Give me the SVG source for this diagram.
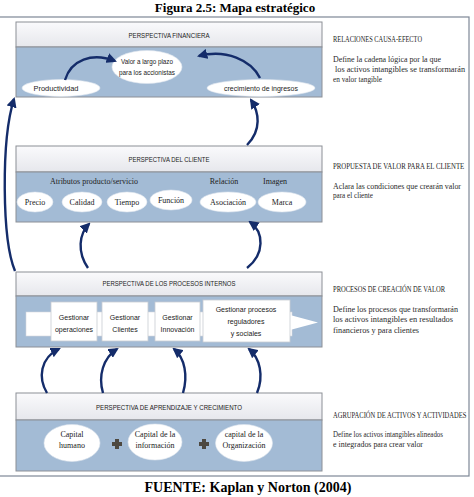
<svg xmlns="http://www.w3.org/2000/svg" width="474" height="497" viewBox="0 0 474 497">
<defs>
<linearGradient id="hdr" x1="0" y1="0" x2="0" y2="1">
<stop offset="0" stop-color="#fafafc"/>
<stop offset="1" stop-color="#e6e7ec"/>
</linearGradient>
<marker id="ah" viewBox="0 0 10 10" refX="8" refY="5" markerWidth="4.3" markerHeight="4.3" orient="auto" markerUnits="strokeWidth">
<path d="M0,0 L10,5 L0,10 z" fill="#142c6a"/>
</marker>
<style>
.hdr{fill:url(#hdr);stroke:#8c8f96;stroke-width:1}
.body{fill:#a3bbd5;stroke:#8c8f96;stroke-width:1}
.el{fill:#ffffff;stroke:#dfe5ee;stroke-width:0.6}
.box{fill:#ffffff;stroke:#c9ccd2;stroke-width:0.8}
.ht{font-family:"Liberation Sans",Arial,sans-serif;font-size:6.6px;fill:#1a1a1a;text-anchor:middle}
.st{font-family:"Liberation Sans",Arial,sans-serif;font-size:7px;fill:#222;text-anchor:middle}
.sf{font-family:"Liberation Serif","Times New Roman",serif;font-size:8px;fill:#222;text-anchor:middle}
.rh{font-family:"Liberation Serif","Times New Roman",serif;font-size:8px;fill:#222}
.rt{font-family:"Liberation Serif","Times New Roman",serif;font-size:8px;fill:#2a2a2a}
.cap{font-family:"Liberation Serif","Times New Roman",serif;font-size:13px;font-weight:bold;fill:#000;text-anchor:middle}
.cap2{font-family:"Liberation Serif","Times New Roman",serif;font-size:14px;font-weight:bold;fill:#000;text-anchor:middle}
.con{fill:none;stroke:#142c6a;stroke-width:2.4;marker-end:url(#ah)}
.plus{fill:#4d4840}
</style>
</defs>
<rect x="0" y="0" width="474" height="497" fill="#ffffff"/>
<text class="cap" x="235" y="12">Figura 2.5: Mapa estratégico</text>
<rect x="-2" y="17" width="471" height="459" fill="none" stroke="#7d8796" stroke-width="1.2"/>

<g id="financiera">
<rect class="hdr" x="16" y="22" width="306" height="25"/>
<rect class="body" x="16" y="47" width="306" height="50"/>
<text class="ht" x="169" y="38" textLength="81" lengthAdjust="spacingAndGlyphs">PERSPECTIVA FINANCIERA</text>
</g>
<g id="valor">
<ellipse class="el" cx="147" cy="67" rx="35" ry="16.5"/>
<text class="st" x="147" y="64" textLength="52" lengthAdjust="spacingAndGlyphs">Valor a largo plazo</text>
<text class="st" x="147" y="75" textLength="56" lengthAdjust="spacingAndGlyphs">para los accionistas</text>
</g>
<g id="productividad">
<ellipse class="el" cx="61" cy="88" rx="39" ry="8.5"/>
<text class="st" x="56" y="90.5" textLength="45" lengthAdjust="spacingAndGlyphs">Productividad</text>
</g>
<g id="crecimiento">
<ellipse class="el" cx="261" cy="88" rx="54" ry="8.5"/>
<text class="st" x="261" y="90.5" textLength="74" lengthAdjust="spacingAndGlyphs">crecimiento de ingresos</text>
</g>

<g id="cliente">
<rect class="hdr" x="16" y="146" width="306" height="26"/>
<rect class="body" x="16" y="172" width="306" height="50"/>
<text class="ht" x="169" y="162" textLength="81" lengthAdjust="spacingAndGlyphs">PERSPECTIVA DEL CLIENTE</text>
<text class="sf" x="94" y="184" textLength="88" lengthAdjust="spacingAndGlyphs">Atributos producto/servicio</text>
<text class="sf" x="224" y="184">Relación</text>
<text class="sf" x="275" y="184">Imagen</text>
</g>
<g id="precio"><ellipse class="el" cx="35" cy="202" rx="18" ry="10"/><text class="sf" x="35" y="205">Precio</text></g>
<g id="calidad"><ellipse class="el" cx="82" cy="202" rx="20" ry="10"/><text class="sf" x="82" y="205">Calidad</text></g>
<g id="tiempo"><ellipse class="el" cx="127" cy="202" rx="20" ry="10"/><text class="sf" x="127" y="205">Tiempo</text></g>
<g id="funcion"><ellipse class="el" cx="171" cy="200" rx="21" ry="10"/><text class="sf" x="171" y="203">Función</text></g>
<g id="asociacion"><ellipse class="el" cx="228" cy="202" rx="28" ry="10"/><text class="sf" x="228" y="205">Asociación</text></g>
<g id="marca"><ellipse class="el" cx="282" cy="202" rx="24" ry="10"/><text class="sf" x="282" y="205">Marca</text></g>

<g id="procesos">
<rect class="hdr" x="16" y="272" width="306" height="24"/>
<rect class="body" x="16" y="296" width="306" height="51"/>
<text class="ht" x="169" y="286" textLength="133" lengthAdjust="spacingAndGlyphs">PERSPECTIVA DE LOS PROCESOS INTERNOS</text>
<rect x="26" y="312" width="266" height="24" fill="#ffffff" stroke="#d5d8de" stroke-width="0.6"/>
<polygon points="290,315 318,322.5 290,330" fill="#ffffff"/>
</g>
<g id="operaciones"><rect class="box" x="51" y="302" width="46" height="39"/><text class="st" x="74" y="320">Gestionar</text><text class="st" x="74" y="332">operaciones</text></g>
<g id="clientes"><rect class="box" x="102" y="302" width="46" height="39"/><text class="st" x="125" y="320">Gestionar</text><text class="st" x="125" y="332">Clientes</text></g>
<g id="innovacion"><rect class="box" x="155" y="302" width="45" height="39"/><text class="st" x="177.5" y="320">Gestionar</text><text class="st" x="177.5" y="332">Innovación</text></g>
<g id="reguladores"><rect class="box" x="203" y="300" width="87" height="42"/><text class="st" x="246" y="312">Gestionar  procesos</text><text class="st" x="246" y="324">reguladores</text><text class="st" x="246" y="336">y sociales</text></g>

<g id="aprendizaje">
<rect class="hdr" x="16" y="393" width="306" height="27"/>
<rect class="body" x="16" y="420" width="306" height="51"/>
<text class="ht" x="169" y="410" textLength="146" lengthAdjust="spacingAndGlyphs">PERSPECTIVA DE APRENDIZAJE Y CRECIMIENTO</text>
<path class="plus" d="M115,439 h4 v3 h3 v4 h-3 v3 h-4 v-3 h-3 v-4 h3 z"/>
<path class="plus" d="M202,439 h4 v3 h3 v4 h-3 v3 h-4 v-3 h-3 v-4 h3 z"/>
</g>
<g id="capital-humano"><ellipse class="el" cx="72" cy="443" rx="28" ry="18.5"/><text class="sf" x="72" y="437">Capital</text><text class="sf" x="72" y="448">humano</text></g>
<g id="capital-informacion"><ellipse class="el" cx="155" cy="442" rx="27" ry="18"/><text class="sf" x="155" y="437">Capital de la</text><text class="sf" x="155" y="448">información</text></g>
<g id="capital-organizacion"><ellipse class="el" cx="244" cy="443" rx="28.5" ry="18.5"/><text class="sf" x="244" y="437">capital de la</text><text class="sf" x="244" y="448">Organización</text></g>

<g id="connectors">
<path class="con" d="M65,80 C71,60 92,52 115,61"/>
<path class="con" d="M260,78 C251,60 226,49 199,56"/>
<path class="con" d="M15,271 C2,240 1,140 14,99"/>
<path class="con" d="M247,145 C262,130 259,112 251,100"/>
<path class="con" d="M88,268 C77,252 79,234 89,224"/>
<path class="con" d="M247,268 C265,254 264,232 250,222"/>
<path class="con" d="M47,393 C38,378 40,358 59,349"/>
<path class="con" d="M103,393 C98,376 103,358 117,349"/>
<path class="con" d="M183,393 C188,376 185,358 174,349"/>
<path class="con" d="M257,393 C264,376 260,358 249,349"/>
</g>

<g id="notas">
<text class="rh" x="333" y="42" textLength="89" lengthAdjust="spacingAndGlyphs">RELACIONES CAUSA-EFECTO</text>
<text class="rt" x="333" y="62" textLength="108" lengthAdjust="spacingAndGlyphs">Define la cadena lógica por la que</text>
<text class="rt" x="335" y="72" textLength="130" lengthAdjust="spacingAndGlyphs">los activos intangibles se transformarán</text>
<text class="rt" x="333" y="82" textLength="49" lengthAdjust="spacingAndGlyphs">en valor tangible</text>
<text class="rh" transform="translate(333,169) scale(0.85,1)" x="0" y="0">PROPUESTA DE VALOR PARA EL CLIENTE</text>
<text class="rt" x="333" y="189" textLength="128" lengthAdjust="spacingAndGlyphs">Aclara las condiciones que crearán valor</text>
<text class="rt" x="333" y="198" textLength="40" lengthAdjust="spacingAndGlyphs">para el cliente</text>
<text class="rh" x="333" y="292" textLength="112" lengthAdjust="spacingAndGlyphs">PROCESOS DE CREACIÓN DE VALOR</text>
<text class="rt" x="333" y="312" textLength="125" lengthAdjust="spacingAndGlyphs">Define los procesos que transformarán</text>
<text class="rt" x="333" y="322" textLength="120" lengthAdjust="spacingAndGlyphs">los activos intangibles en resultados</text>
<text class="rt" x="333" y="333" textLength="86" lengthAdjust="spacingAndGlyphs">financieros y para clientes</text>
<text class="rh" transform="translate(333,418) scale(0.82,1)" x="0" y="0">AGRUPACIÓN DE ACTIVOS Y ACTIVIDADES</text>
<text class="rt" x="333" y="437" textLength="110" lengthAdjust="spacingAndGlyphs">Define los activos intangibles alineados</text>
<text class="rt" x="333" y="447" textLength="90" lengthAdjust="spacingAndGlyphs">e integrados para crear valor</text>
</g>

<text class="cap2" x="248" y="492">FUENTE: Kaplan y Norton (2004)</text>
</svg>
